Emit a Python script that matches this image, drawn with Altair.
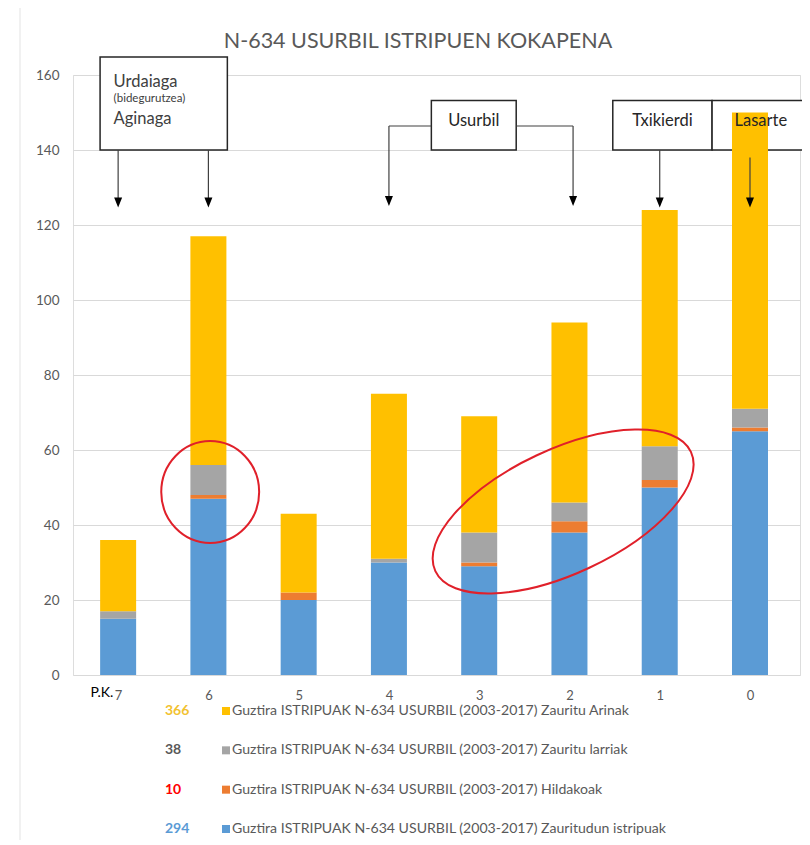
import altair as alt
import pandas as pd

# ---------------- data ----------------
PK = [7, 6, 5, 4, 3, 2, 1, 0]
ZAURITUDUN = [15, 47, 20, 30, 29, 38, 50, 65]   # Zauritudun istripuak (blue)
HILDAKOAK = [0, 1, 2, 0, 1, 3, 2, 1]            # Hildakoak (orange)
LARRIAK = [2, 8, 0, 1, 8, 5, 9, 5]              # Zauritu larriak (gray)
ARINAK = [19, 61, 21, 44, 31, 48, 63, 79]       # Zauritu Arinak (yellow)

PREFIX = "Guztira ISTRIPUAK N-634 USURBIL (2003-2017) "
S_ARINAK = PREFIX + "Zauritu Arinak"
S_LARRIAK = PREFIX + "Zauritu larriak"
S_HILDAKOAK = PREFIX + "Hildakoak"
S_ZAURITUDUN = PREFIX + "Zauritudun istripuak"

LEGEND_ORDER = [S_ARINAK, S_LARRIAK, S_HILDAKOAK, S_ZAURITUDUN]
BAR_COLORS = ["#FFC000", "#A5A5A5", "#ED7D31", "#5B9BD5"]
NUM_COLORS = ["#F2C230", "#595959", "#FF0000", "#5B9BD5"]

STACK = [(S_ZAURITUDUN, ZAURITUDUN), (S_HILDAKOAK, HILDAKOAK),
         (S_LARRIAK, LARRIAK), (S_ARINAK, ARINAK)]

rows = []
for order, (name, vals) in enumerate(STACK):
    for pk, v in zip(PK, vals):
        rows.append({"pk": pk, "series": name, "value": v, "order": order})
df = pd.DataFrame(rows)

# annotations (in data coordinates: x = P.K., y = value)
BOX_X1 = [7.20, 3.53, 1.52, 0.42]
BOX_X2 = [5.79, 2.59, 0.42, -0.69]
BOX_Y1 = [164.8, 153.2, 153.2, 153.2]
BOX_Y2 = [140, 140, 140, 140]

SEG_X1 = [7, 6, 3.53, 4, 2.59, 1.96, 1, 0]
SEG_Y1 = [140, 140, 146.4, 146.4, 146.4, 146.4, 140, 138]
SEG_X2 = [7, 6, 4, 4, 1.96, 1.96, 1, 0]
SEG_Y2 = [127, 127, 146.4, 127, 146.4, 127, 127, 127]

HEAD_X = [7, 6, 4, 1.96, 1, 0]
HEAD_Y = [126, 126, 126.4, 126.4, 126, 126]

LEFT_TEXT = ["Urdaiaga", "Aginaga"]
LEFT_X = [7.05, 7.05]
LEFT_Y = [158.1, 148.3]
SMALL_TEXT = ["(bidegurutzea)"]
SMALL_X = [7.05]
SMALL_Y = [153.6]
CENTER_TEXT = ["Usurbil", "Txikierdi", "Lasarte"]
CENTER_X = [3.06, 0.97, -0.12]
CENTER_Y = [147.8, 147.8, 147.8]

ELL1_X, ELL1_Y = [5.98], [48.8]
ELL2_X, ELL2_Y = [2.07], [43.6]

TITLE = ["N-634 USURBIL ISTRIPUEN KOKAPENA"]
FONT = "Lato"

# ---------------- scales / axes ----------------
XS = alt.Scale(domain=[-0.554, 7.5], reverse=True, nice=False, zero=False, padding=0)
YS = alt.Scale(domain=[0, 160], nice=False, zero=True, padding=0)
XAX = alt.Axis(values=PK, format="d", grid=False, domain=False, ticks=False,
               tickSize=0, labelPadding=14, labelColor="#595959", labelFontSize=13,
               labelFont=FONT, title="P.K.", titleAnchor="start", titleAlign="left",
               titleX=17, titleY=10, titleBaseline="top", titleColor="#000000",
               titleFontSize=14, titleFontWeight="normal", titleFont=FONT)
YAX = alt.Axis(values=list(range(0, 161, 20)), grid=True, gridColor="#D9D9D9",
               domain=False, ticks=False, tickSize=0, labelPadding=14,
               labelColor="#595959", labelFontSize=13.5, labelFont=FONT, title=None)


def X(field):
    return alt.X(field, type="quantitative", scale=XS, axis=XAX)


def Y(field):
    return alt.Y(field, type="quantitative", scale=YS, axis=YAX)


def ellipse_path(rx, ry):
    k = 0.5523
    return (f"M {-rx} 0 C {-rx} {-k*ry:.4f} {-k*rx:.4f} {-ry} 0 {-ry} "
            f"C {k*rx:.4f} {-ry} {rx} {-k*ry:.4f} {rx} 0 "
            f"C {rx} {k*ry:.4f} {k*rx:.4f} {ry} 0 {ry} "
            f"C {-k*rx:.4f} {ry} {-rx} {k*ry:.4f} {-rx} 0 Z")


TRI = "M -0.8 -1 L 0.8 -1 L 0 1 Z"

# ---------------- layers ----------------
border = alt.Chart(pd.DataFrame({"a": [0]})).mark_rule(color="#E3E3E3", strokeWidth=1).encode(
    x=alt.value(-53), y=alt.value(-67), y2=alt.value(770))

title = alt.Chart(pd.DataFrame({"t": TITLE})).mark_text(
    align="center", baseline="alphabetic", fontSize=21.5, font=FONT, color="#595959").encode(
    x=alt.value(345), y=alt.value(-27), text="t:N")

boxes = alt.Chart(pd.DataFrame({"x1": BOX_X1, "x2": BOX_X2, "y1": BOX_Y1, "y2": BOX_Y2})).mark_rect(
    fill="white", stroke="#262626", strokeWidth=1.5).encode(
    x=X("x1"), x2="x2", y=Y("y1"), y2="y2")

bars = alt.Chart(df).transform_stack(
    stack="value", groupby=["pk"], as_=["y0", "y1"],
    sort=[alt.SortField("order", order="ascending")]
).mark_bar(size=36).encode(
    x=X("pk"), y=Y("y0"), y2="y1",
    color=alt.Color("series:N", scale=alt.Scale(domain=LEGEND_ORDER, range=BAR_COLORS), legend=None))

segs = alt.Chart(pd.DataFrame({"x1": SEG_X1, "y1": SEG_Y1, "x2": SEG_X2, "y2": SEG_Y2})).mark_rule(
    color="#404040", strokeWidth=1.2).encode(x=X("x1"), x2="x2", y=Y("y1"), y2="y2")

heads = alt.Chart(pd.DataFrame({"x": HEAD_X, "y": HEAD_Y})).mark_point(
    shape=TRI, size=100, filled=True, color="#000000", opacity=1).encode(x=X("x"), y=Y("y"))

left_txt = alt.Chart(pd.DataFrame({"x": LEFT_X, "y": LEFT_Y, "t": LEFT_TEXT})).mark_text(
    align="left", baseline="middle", fontSize=16.5, font=FONT, color="#404040").encode(
    x=X("x"), y=Y("y"), text="t:N")

small_txt = alt.Chart(pd.DataFrame({"x": SMALL_X, "y": SMALL_Y, "t": SMALL_TEXT})).mark_text(
    align="left", baseline="middle", fontSize=11.5, font=FONT, color="#404040").encode(
    x=X("x"), y=Y("y"), text="t:N")

center_txt = alt.Chart(pd.DataFrame({"x": CENTER_X, "y": CENTER_Y, "t": CENTER_TEXT})).mark_text(
    align="center", baseline="middle", fontSize=16.5, font=FONT, color="#262626").encode(
    x=X("x"), y=Y("y"), text="t:N")

ell1 = alt.Chart(pd.DataFrame({"x": ELL1_X, "y": ELL1_Y})).mark_point(
    shape=ellipse_path(0.96, 1), size=10404, filled=False, stroke="#E0202A",
    strokeWidth=2, opacity=1).encode(x=X("x"), y=Y("y"))

ell2 = alt.Chart(pd.DataFrame({"x": ELL2_X, "y": ELL2_Y})).mark_point(
    shape=ellipse_path(1, 0.44), size=79524, angle=335, filled=False, stroke="#E0202A",
    strokeWidth=2, opacity=1).encode(x=X("x"), y=Y("y"))

main = alt.layer(border, title, boxes, bars, segs, heads, left_txt, small_txt, center_txt, ell1, ell2)

# legend built from the same data
LY = alt.Y("series:N", scale=alt.Scale(type="point", domain=LEGEND_ORDER, range=[636, 754], padding=0),
           axis=None)
leg_base = alt.Chart(df).transform_aggregate(total="sum(value)", groupby=["series"])
leg_num = leg_base.mark_text(
    align="left", baseline="middle", fontSize=14, fontWeight="bold", font=FONT).encode(
    x=alt.value(92), y=LY, text="total:Q",
    fill=alt.Fill("series:N", scale=alt.Scale(domain=LEGEND_ORDER, range=NUM_COLORS), legend=None))
leg_sym = leg_base.mark_point(
    shape="square", size=64, filled=True, opacity=1).encode(
    x=alt.value(153), y=LY,
    color=alt.Color("series:N", scale=alt.Scale(domain=LEGEND_ORDER, range=BAR_COLORS), legend=None))
leg_lab = leg_base.mark_text(
    align="left", baseline="middle", fontSize=14.1, font=FONT, color="#595959").encode(
    x=alt.value(159), y=LY, text="series:N")

legend = alt.layer(leg_num, leg_sym, leg_lab)

chart = alt.layer(main, legend).resolve_scale(y="independent", color="independent").properties(
    width=727, height=600,
    autosize=alt.AutoSizeParams(type="none"),
    padding={"left": 65, "top": 67, "right": 2, "bottom": 165},
).configure_view(stroke=None).configure(background="white")

chart.save("out.html", embed_options={"renderer": "svg", "actions": False})
